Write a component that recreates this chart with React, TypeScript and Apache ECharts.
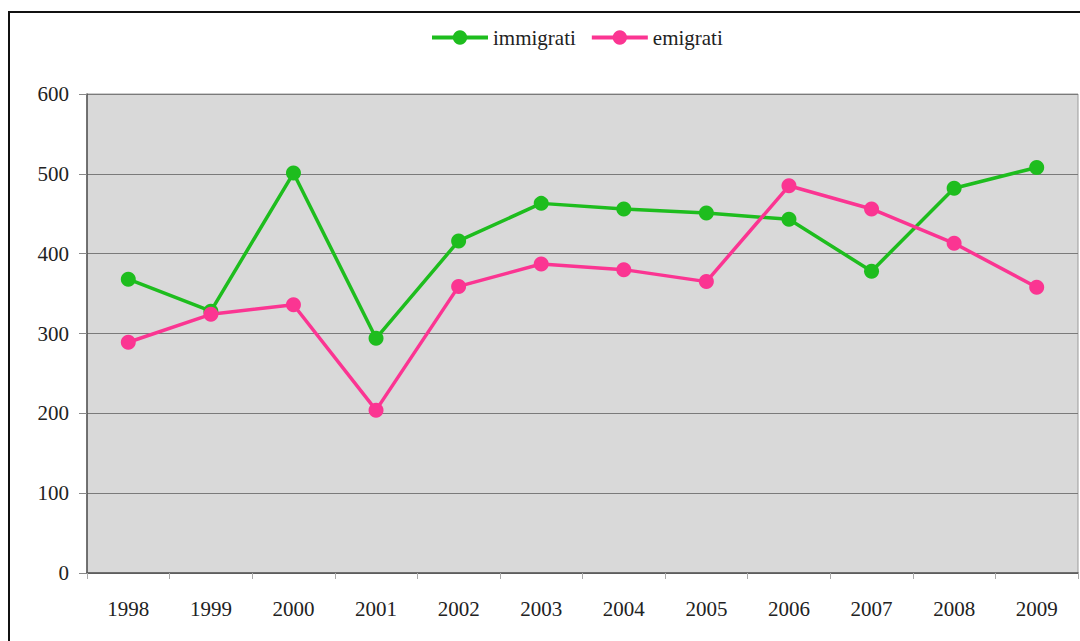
import React, { useEffect, useRef } from "react";
import * as echarts from "echarts";

const years = ["1998", "1999", "2000", "2001", "2002", "2003", "2004", "2005", "2006", "2007", "2008", "2009"];
const immigrati = [368, 328, 501, 294, 416, 463, 456, 451, 443, 378, 482, 508];
const emigrati = [289, 324, 336, 204, 359, 387, 380, 365, 485, 456, 413, 358];

const GREEN = "#1ebd1e";
const PINK = "#fb3592";
const FONT = "Liberation Serif";

export default function App() {
  const ref = useRef<HTMLDivElement>(null);
  useEffect(() => {
    if (!ref.current) return;
    const chart = echarts.init(ref.current, null, { renderer: "svg" });
    chart.setOption({
      animation: false,
      backgroundColor: "#ffffff",
      textStyle: { fontFamily: FONT },
      graphic: [
        {
          type: "rect",
          shape: { x: 9, y: 12, width: 1120, height: 700 },
          style: { fill: "none", stroke: "#111", lineWidth: 2 },
          z: 100,
        },
      ],
      legend: {
        top: 22,
        left: 425,
        itemWidth: 56,
        itemHeight: 18,
        itemGap: 14,
        lineStyle: { width: 4 },
        textStyle: { fontFamily: FONT, fontSize: 21, color: "#222" },
        data: ["immigrati", "emigrati"],
      },
      grid: {
        left: 87,
        right: 2,
        top: 94,
        bottom: 68,
        show: true,
        backgroundColor: "#d9d9d9",
        borderColor: "#9a9a9a",
        borderWidth: 1,
      },
      xAxis: {
        type: "category",
        data: years,
        boundaryGap: true,
        axisLine: { lineStyle: { color: "#555", width: 1.5 } },
        axisTick: { show: true, length: 6, lineStyle: { color: "#aaa" } },
        axisLabel: { fontFamily: FONT, fontSize: 21, color: "#222", margin: 25 },
      },
      yAxis: {
        type: "value",
        min: 0,
        max: 600,
        interval: 100,
        axisLine: { show: true, lineStyle: { color: "#555", width: 1.5 } },
        axisTick: { show: true, length: 8, lineStyle: { color: "#888" } },
        axisLabel: { fontFamily: FONT, fontSize: 21, color: "#222", margin: 18 },
        splitLine: { lineStyle: { color: "#7a7a7a", width: 1 } },
      },
      series: [
        {
          name: "immigrati",
          type: "line",
          data: immigrati,
          symbol: "circle",
          symbolSize: 15,
          lineStyle: { color: GREEN, width: 3.5 },
          itemStyle: { color: GREEN },
        },
        {
          name: "emigrati",
          type: "line",
          data: emigrati,
          symbol: "circle",
          symbolSize: 15,
          lineStyle: { color: PINK, width: 3.5 },
          itemStyle: { color: PINK },
        },
      ],
    });
    return () => chart.dispose();
  }, []);
  return (
    <div
      ref={ref}
      style={{ position: "fixed", left: 0, top: 0, width: 1080, height: 641 }}
    />
  );
}
